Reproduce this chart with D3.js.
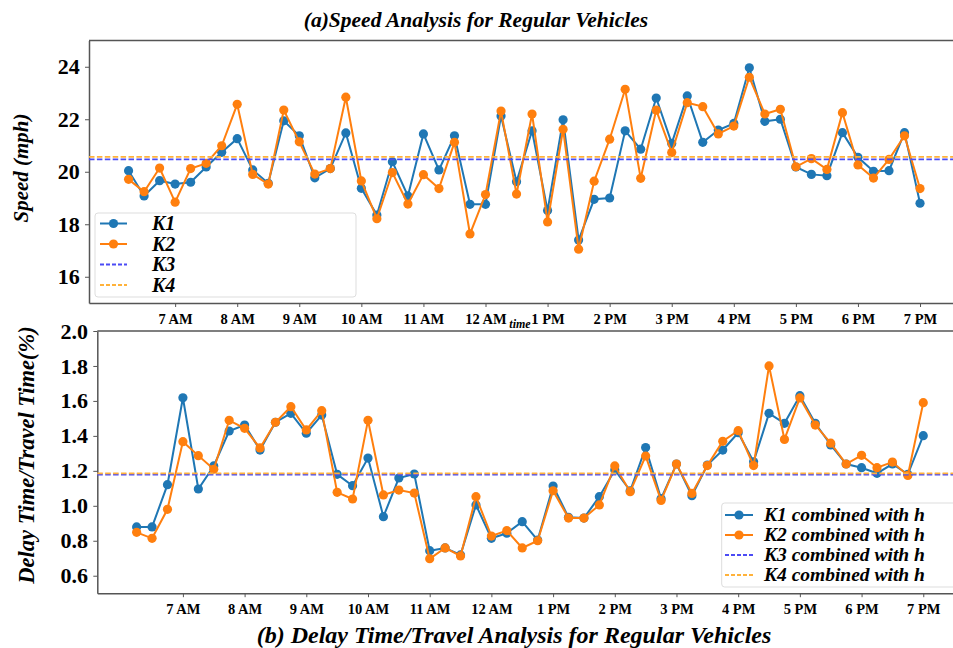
<!DOCTYPE html>
<html><head><meta charset="utf-8">
<script src="https://cdn.jsdelivr.net/npm/d3@7"></script>
<style>body{margin:0;background:#fff;} svg{display:block;font-family:"Liberation Serif","Times New Roman",serif;}</style>
</head><body>
<svg id="c" width="953" height="648"></svg>
<script>
// ---- data ----
const hours = d3.range(52).map(i => 6.25 + i * 0.25); // 15-min samples 6:15 .. 19:00
const tickHours = [7, 8, 9, 10, 11, 12, 13, 14, 15, 16, 17, 18, 19];
const tickLabels = ["7 AM","8 AM","9 AM","10 AM","11 AM","12 AM","1 PM","2 PM","3 PM","4 PM","5 PM","6 PM","7 PM"];

const speedK1 = [20.04,19.08,19.66,19.53,19.60,20.18,20.74,21.26,20.07,19.56,21.94,21.37,19.77,20.12,21.48,19.37,18.35,
  20.38,19.08,21.44,20.07,21.37,18.76,18.76,22.12,19.62,21.56,18.52,21.98,17.40,18.95,19.00,21.56,20.86,22.81,
  21.08,22.89,21.12,21.59,21.84,23.96,21.92,22.00,20.18,19.90,19.85,21.49,20.55,20.02,20.04,21.49,18.80];
const speedK2 = [19.71,19.24,20.14,18.84,20.12,20.32,20.99,22.57,19.90,19.53,22.35,21.14,19.91,20.12,22.84,19.65,18.21,
  19.97,18.77,19.89,19.36,21.12,17.63,19.13,22.31,19.15,22.20,18.09,21.62,17.05,19.64,21.24,23.14,19.75,22.35,
  20.73,22.63,22.48,21.44,21.74,23.60,22.20,22.38,20.19,20.50,20.09,22.25,20.26,19.76,20.47,21.37,19.36];
const speedK3 = 20.47;
const speedK4 = 20.57;

const delayK1 = [0.879,0.879,1.121,1.618,1.096,1.228,1.428,1.462,1.319,1.478,1.529,1.415,1.519,1.180,1.115,1.273,
  0.938,1.159,1.182,0.743,0.759,0.719,1.005,0.814,0.843,0.909,0.804,1.113,0.934,0.930,1.052,1.205,1.086,1.333,
  1.041,1.239,1.058,1.233,1.319,1.418,1.252,1.529,1.472,1.630,1.472,1.348,1.239,1.218,1.186,1.239,1.180,1.401];
const delayK2 = [0.848,0.814,0.980,1.367,1.287,1.209,1.489,1.443,1.331,1.478,1.567,1.434,1.544,1.077,1.039,1.489,
  1.062,1.090,1.073,0.697,0.759,0.713,1.052,0.827,0.858,0.759,0.800,1.086,0.930,0.930,1.005,1.228,1.081,1.285,
  1.031,1.239,1.071,1.230,1.369,1.430,1.230,1.800,1.380,1.617,1.462,1.358,1.239,1.289,1.218,1.250,1.174,1.590];
const delayK3 = 1.179;
const delayK4 = 1.186;

const speedTicks = [16, 18, 20, 22, 24];
const delayTicks = [0.6, 0.8, 1.0, 1.2, 1.4, 1.6, 1.8, 2.0];

// ---- styles ----
const FONT = '"Liberation Serif","Times New Roman",serif';
const C1 = "#1f77b4", C2 = "#ff7f0e", C3 = "#4b4bf5", C4 = "#ffb23a";
const svg = d3.select("#c");

function panel(opt) {
  const x = d3.scaleLinear().domain([5.6125, 19.6375]).range([opt.left, opt.right]);
  const y = d3.scaleLinear().domain(opt.ydom).range([opt.bottom, opt.top]);
  const g = svg.append("g");

  // axes
  const xa = g.append("g").attr("transform", `translate(0,${opt.bottom})`)
    .call(d3.axisBottom(x).tickValues(tickHours).tickFormat((d, i) => tickLabels[i]).tickSize(4).tickSizeOuter(0));
  xa.attr("font-family", FONT);
  xa.selectAll("text").attr("font-size", 14.5).attr("font-weight", "bold").attr("fill", "#000").attr("dy", "0.95em");
  const ya = g.append("g").attr("transform", `translate(${opt.left},0)`)
    .call(d3.axisLeft(y).tickValues(opt.yticks).tickFormat(opt.yfmt).tickSize(4).tickSizeOuter(0));
  ya.attr("font-family", FONT);
  ya.selectAll("text").attr("font-size", 22).attr("font-weight", "bold").attr("fill", "#000").attr("dx", "-0.1em");
  g.selectAll(".domain").attr("stroke", "#555").attr("stroke-width", 1.5);
  g.selectAll(".tick line").attr("stroke", "#555");
  // top spine
  g.append("line").attr("x1", opt.left).attr("x2", opt.right).attr("y1", opt.top).attr("y2", opt.top)
    .attr("stroke", "#555").attr("stroke-width", 1.5);

  const line = d3.line().x((d, i) => x(hours[i])).y(d => y(d));
  [[opt.k1, C1], [opt.k2, C2]].forEach(([vals, col]) => {
    g.append("path").datum(vals).attr("d", line).attr("fill", "none").attr("stroke", col).attr("stroke-width", 2);
    g.selectAll(null).data(vals).enter().append("circle")
      .attr("cx", (d, i) => x(hours[i])).attr("cy", d => y(d)).attr("r", 4.6).attr("fill", col);
  });
  [[opt.k3, C3], [opt.k4, C4]].forEach(([v, col]) => {
    g.append("line").attr("x1", opt.left).attr("x2", opt.right).attr("y1", y(v)).attr("y2", y(v))
      .attr("stroke", col).attr("stroke-width", 1.8).attr("stroke-dasharray", "5.5,2.4");
  });

  // legend
  const L = opt.legend;
  g.append("rect").attr("x", L.x).attr("y", L.y).attr("width", L.w).attr("height", L.h).attr("rx", 3)
    .attr("fill", "#fff").attr("fill-opacity", 0.85).attr("stroke", "#ddd").attr("stroke-width", 1);
  const items = [[C1, true], [C2, true], [C3, false], [C4, false]];
  items.forEach(([col, mk], i) => {
    const yy = L.y + L.first + i * L.step;
    if (mk) {
      g.append("line").attr("x1", L.sx1).attr("x2", L.sx2).attr("y1", yy).attr("y2", yy).attr("stroke", col).attr("stroke-width", 2);
      g.append("circle").attr("cx", (L.sx1 + L.sx2) / 2).attr("cy", yy).attr("r", 4.6).attr("fill", col);
    } else {
      g.append("line").attr("x1", L.sx1).attr("x2", L.sx2).attr("y1", yy).attr("y2", yy).attr("stroke", col)
        .attr("stroke-width", 1.8).attr("stroke-dasharray", "4,2");
    }
    g.append("text").attr("x", L.tx).attr("y", yy).attr("dy", "0.33em").attr("font-size", L.fs)
      .attr("font-weight", "bold").attr("font-style", "italic").text(L.labels[i]);
  });
  return {x, y};
}

panel({left: 89, right: 959.6, top: 40.5, bottom: 303, ydom: [15, 25], yticks: speedTicks, yfmt: d3.format("d"),
  k1: speedK1, k2: speedK2, k3: speedK3, k4: speedK4,
  legend: {x: 95, y: 213, w: 261, h: 84, first: 10.5, step: 20.5, sx1: 100, sx2: 127, tx: 152, fs: 20,
    labels: ["K1", "K2", "K3", "K4"]}});

panel({left: 97.3, right: 962.6, top: 331, bottom: 593.2, ydom: [0.5, 2.0], yticks: delayTicks, yfmt: d3.format(".1f"),
  k1: delayK1, k2: delayK2, k3: delayK3, k4: delayK4,
  legend: {x: 721.7, y: 503, w: 240, h: 84, first: 12, step: 20, sx1: 725, sx2: 753, tx: 764, fs: 19.5,
    labels: ["K1 combined with h", "K2 combined with h", "K3 combined with h", "K4 combined with h"]}});

// titles and labels
svg.append("text").attr("x", 476).attr("y", 27).attr("text-anchor", "middle").attr("font-size", 21.5)
  .attr("font-weight", "bold").attr("font-style", "italic").text("(a)Speed Analysis for Regular Vehicles");
svg.append("text").attr("x", 514).attr("y", 643).attr("text-anchor", "middle").attr("font-size", 24)
  .attr("font-weight", "bold").attr("font-style", "italic").text("(b) Delay Time/Travel Analysis for Regular Vehicles");
svg.append("text").attr("x", 520).attr("y", 328).attr("text-anchor", "middle").attr("font-size", 12)
  .attr("font-weight", "bold").attr("font-style", "italic").text("time");
svg.append("text").attr("transform", "translate(28,168) rotate(-90)").attr("text-anchor", "middle").attr("font-size", 21)
  .attr("font-weight", "bold").attr("font-style", "italic").text("Speed (mph)");
svg.append("text").attr("transform", "translate(34,455) rotate(-90)").attr("text-anchor", "middle").attr("font-size", 22.5)
  .attr("font-weight", "bold").attr("font-style", "italic").text("Delay Time/Travel Time(%)");
</script>
</body></html>
